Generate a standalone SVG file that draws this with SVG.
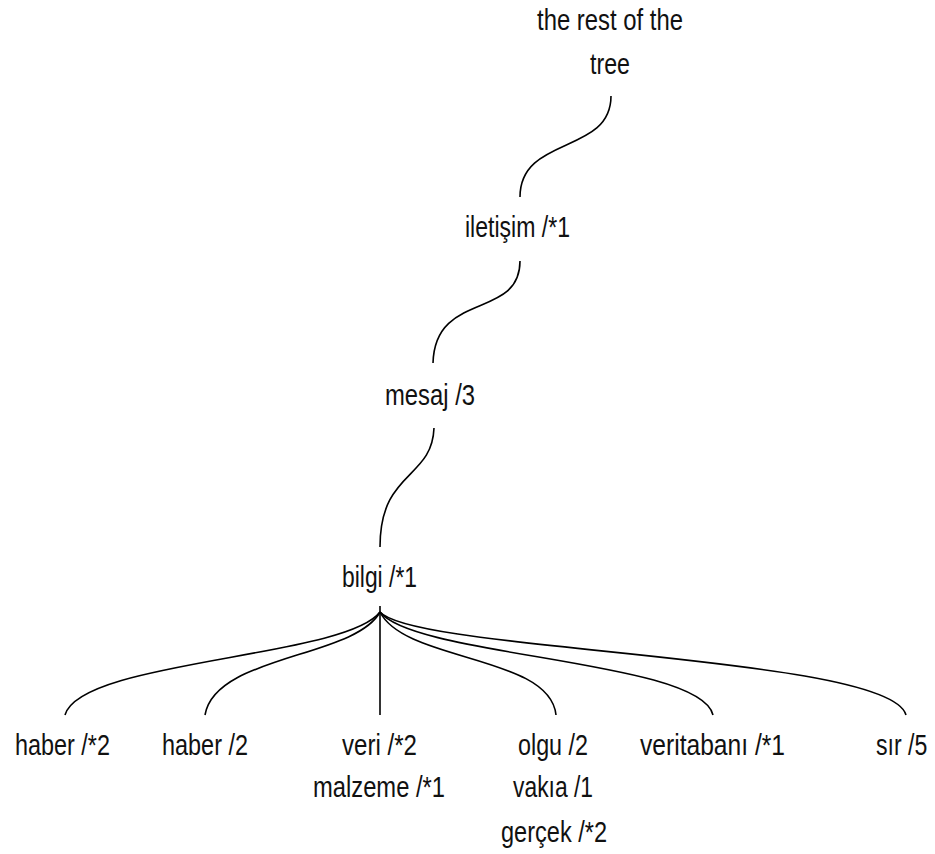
<svg xmlns="http://www.w3.org/2000/svg" width="935" height="854" viewBox="0 0 935 854">
<style>
text{font-family:"Liberation Sans",Arial,sans-serif;font-size:30px;fill:#111;text-anchor:start}
.edge{fill:none;stroke:#000;stroke-width:1.6}
</style>
<rect width="935" height="854" fill="#fff"/>
<g id="connectors">
<path class="edge" d="M611,96 C611,155 520,135 520,197"/>
<path class="edge" d="M520,261 C520,320 435,290 433,363"/>
<path class="edge" d="M434,428 C432,480 380,470 380,547"/>
<path class="edge" d="M380,612 C345,658 80,660 65,715"/>
<path class="edge" d="M380,612 C355,658 215,655 205,715"/>
<path class="edge" d="M380,606 L380,715"/>
<path class="edge" d="M380,612 C405,662 550,655 556,715"/>
<path class="edge" d="M380,612 C415,657 700,660 713,715"/>
<path class="edge" d="M380,612 C415,652 890,655 906,715"/>
</g>
<g id="root"><text x="537" y="30" textLength="146" lengthAdjust="spacingAndGlyphs">the rest of the</text><text x="590" y="74" textLength="40" lengthAdjust="spacingAndGlyphs">tree</text></g>
<g id="iletisim"><text x="465" y="237" textLength="105" lengthAdjust="spacingAndGlyphs">iletişim /*1</text></g>
<g id="mesaj"><text x="385" y="405" textLength="90" lengthAdjust="spacingAndGlyphs">mesaj /3</text></g>
<g id="bilgi"><text x="342" y="587" textLength="75" lengthAdjust="spacingAndGlyphs">bilgi /*1</text></g>
<g id="haber1"><text x="15" y="755" textLength="95" lengthAdjust="spacingAndGlyphs">haber /*2</text></g>
<g id="haber2"><text x="162" y="755" textLength="86" lengthAdjust="spacingAndGlyphs">haber /2</text></g>
<g id="veri"><text x="342" y="755" textLength="75" lengthAdjust="spacingAndGlyphs">veri /*2</text><text x="313" y="797" textLength="132" lengthAdjust="spacingAndGlyphs">malzeme /*1</text></g>
<g id="olgu"><text x="518" y="755" textLength="70" lengthAdjust="spacingAndGlyphs">olgu /2</text><text x="513" y="797" textLength="80" lengthAdjust="spacingAndGlyphs">vakıa /1</text><text x="501" y="842" textLength="106" lengthAdjust="spacingAndGlyphs">gerçek /*2</text></g>
<g id="veritabani"><text x="640" y="755" textLength="145" lengthAdjust="spacingAndGlyphs">veritabanı /*1</text></g>
<g id="sir"><text transform="translate(876,755) scale(0.77,1)" x="0" y="0">sır /5</text></g>
</svg>
